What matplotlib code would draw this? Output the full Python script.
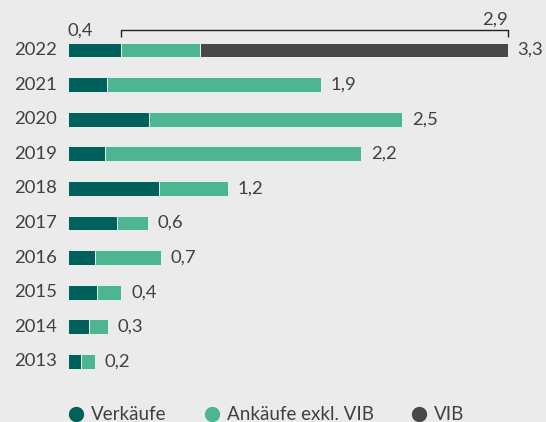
import matplotlib

matplotlib.use("Agg")
import matplotlib.pyplot as plt
from matplotlib.lines import Line2D
import numpy as np

plt.rcParams["font.family"] = ["Lato", "DejaVu Sans"]

years = ["2022", "2021", "2020", "2019", "2018", "2017", "2016", "2015", "2014", "2013"]
verkaeufe = [0.40, 0.29, 0.61, 0.28, 0.68, 0.37, 0.20, 0.22, 0.16, 0.10]
ankaeufe = [0.59, 1.61, 1.90, 1.92, 0.52, 0.23, 0.50, 0.18, 0.14, 0.10]
vib = [2.31, 0, 0, 0, 0, 0, 0, 0, 0, 0]
totals = ["3,3", "1,9", "2,5", "2,2", "1,2", "0,6", "0,7", "0,4", "0,3", "0,2"]
bracket_left, bracket_right = "0,4", "2,9"

C_V, C_A, C_VIB = "#00605c", "#4db58f", "#484848"
BG = "#ebebeb"
TXT = "#404040"
FS = 13.3

W, H = 546, 422
x0_px, px_per_unit = 68, 133.2
y0_px, row_px = 50, 34.6

fig = plt.figure(figsize=(W / 100, H / 100), dpi=100, facecolor=BG)
ax = fig.add_axes([0, 0, 1, 1], facecolor=BG)
ax.set_xlim(-x0_px / px_per_unit, (W - x0_px) / px_per_unit)
ax.set_ylim((H - y0_px) / row_px, -y0_px / row_px)
ax.set_axis_off()

y = np.arange(len(years))
v = np.array(verkaeufe)
a = np.array(ankaeufe)
b = np.array(vib)
kw = dict(height=0.43, edgecolor="#e6f2ee", linewidth=0.7)
ax.barh(y, v, color=C_V, **kw)
ax.barh(y, a, left=v, color=C_A, **kw)
ax.barh(y[b > 0], b[b > 0], left=(v + a)[b > 0], color=C_VIB, **kw)

tot = v + a + b
for yi, t, lab, yr in zip(y, tot, totals, years):
    ax.annotate(lab, (t, yi), xytext=(7, 0), textcoords="offset points",
                ha="left", va="center", fontsize=FS, color=TXT)
    ax.text(-11 / px_per_unit, yi, yr, ha="right", va="center", fontsize=FS, color=TXT)

# bracket over 2022 purchases incl. VIB
yb, yt = -20 / row_px, -13.5 / row_px
ax.plot([v[0], v[0], tot[0], tot[0]], [yt, yb, yb, yt], color="#222222", lw=1,
        solid_capstyle="butt")
ax.text(tot[0], yb - 0.08, bracket_right, ha="right", va="bottom", fontsize=FS, color=TXT)
ax.text(0, yb + 0.02, bracket_left, ha="left", va="center", fontsize=FS, color=TXT)

handles = [Line2D([], [], marker="o", ls="", ms=10, color=c) for c in (C_V, C_A, C_VIB)]
ax.legend(handles, ["Verkäufe", "Ankäufe exkl. VIB", "VIB"], loc="lower left",
          bbox_to_anchor=(48 / W, -18 / H), ncol=3, frameon=False, fontsize=13.5,
          handletextpad=0.2, columnspacing=1.8, handlelength=1.2,
          labelcolor=TXT)

fig.savefig("out.png", dpi=100, facecolor=BG)
